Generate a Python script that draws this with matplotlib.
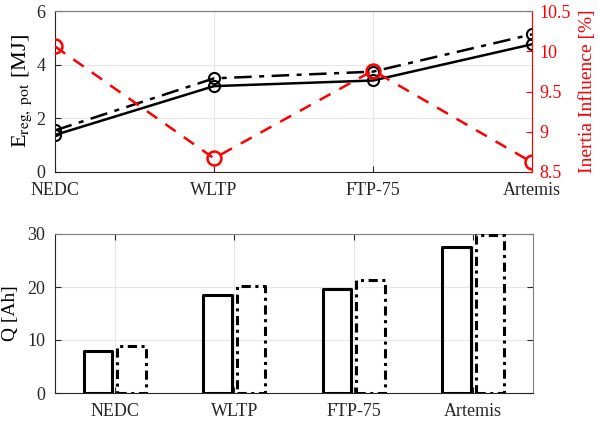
import matplotlib
matplotlib.use("Agg")
import matplotlib.pyplot as plt
import numpy as np

cycles = ["NEDC", "WLTP", "FTP-75", "Artemis"]
e_solid = [1.38, 3.20, 3.41, 4.76]
e_dashdot = [1.55, 3.49, 3.74, 5.13]
inertia = [10.06, 8.67, 9.76, 8.62]
q_solid = [8.0, 18.5, 19.6, 27.5]
q_dashdot = [8.9, 20.2, 21.3, 29.9]

plt.rcParams["font.family"] = ["Liberation Serif", "DejaVu Serif"]
plt.rcParams["mathtext.fontset"] = "stix"
plt.rcParams["font.size"] = 13

fig = plt.figure(figsize=(5.98, 4.22), dpi=100)
W, H = 598, 422
ax1 = fig.add_axes([55/W, 1-172/H, (532-55)/W, (172-11)/H])
ax2 = fig.add_axes([55/W, 1-393/H, (533-55)/W, (393-234)/H])

x = np.arange(1, len(cycles)+1)
grey = "#262626"

# top panel
ax1.plot(x, e_solid, "-", color="k", lw=1.8, marker="o", ms=8, mfc="none", mew=1.5)
ax1.plot(x, e_dashdot, color="k", lw=1.8, dashes=(7, 3, 2, 3), marker="o", ms=8, mfc="none", mew=1.5)
ax1.set_xlim(1, 4)
ax1.set_ylim(0, 6)
ax1.set_yticks([0, 2, 4, 6])
ax1.set_xticks(x)
ax1.set_xticklabels(cycles)
ax1.set_ylabel(r"E$_{\mathrm{reg,\ pot}}$ [MJ]", fontsize=16, labelpad=2)
ax1.grid(True, color="#e6e6e6", lw=0.8)
ax1.set_axisbelow(True)
ax1.tick_params(direction="in", length=4, color=grey, labelcolor=grey, pad=7)
for s in ax1.spines.values():
    s.set_color("#808080")
ax1.spines["left"].set_color(grey)
ax1.spines["bottom"].set_color(grey)

ax1r = ax1.twinx()
ax1r.plot(x, inertia, color="#ff0000", lw=1.8, dashes=(5, 4), marker="o", ms=10, mfc="none", mew=1.8)
ax1r.set_ylim(8.5, 10.5)
ax1r.set_yticks([8.5, 9, 9.5, 10, 10.5])
ax1r.set_yticklabels(["8.5", "9", "9.5", "10", "10.5"])
ax1r.set_ylabel("Inertia Influence [%]", color="#ff0000", fontsize=14, labelpad=6)
ax1r.tick_params(direction="in", length=4, color="#ff0000", labelcolor="#ff0000", pad=5)
ax1r.spines["right"].set_color("#ff0000")
ax1r.spines["top"].set_color("#808080")
ax1r.spines["left"].set_visible(False)
ax1r.spines["bottom"].set_visible(False)

# bottom panel
bw = 0.24
off = 0.14
b1 = ax2.bar(x - off, q_solid, bw, fill=False, edgecolor="k", lw=2.2, zorder=3)
b2 = ax2.bar(x + off, q_dashdot, bw, fill=False, edgecolor="k", lw=2.2,
             linestyle=(0, (3, 1.5, 1, 1.5)), zorder=3)
for p in list(b1) + list(b2):
    p.set_joinstyle("round")
ax2.set_xlim(0.5, 4.5)
ax2.set_ylim(0, 30)
ax2.set_yticks([0, 10, 20, 30])
ax2.set_xticks(x)
ax2.set_xticklabels(cycles)
ax2.set_ylabel("Q [Ah]", fontsize=14, labelpad=6)
ax2.grid(True, color="#e6e6e6", lw=0.8)
ax2.set_axisbelow(True)
ax2.tick_params(direction="in", length=4, color=grey, labelcolor=grey, right=True, top=True, pad=7)
for s in ax2.spines.values():
    s.set_color("#808080")
ax2.spines["left"].set_color(grey)
ax2.spines["bottom"].set_color(grey)

fig.savefig("out.png", dpi=100)
